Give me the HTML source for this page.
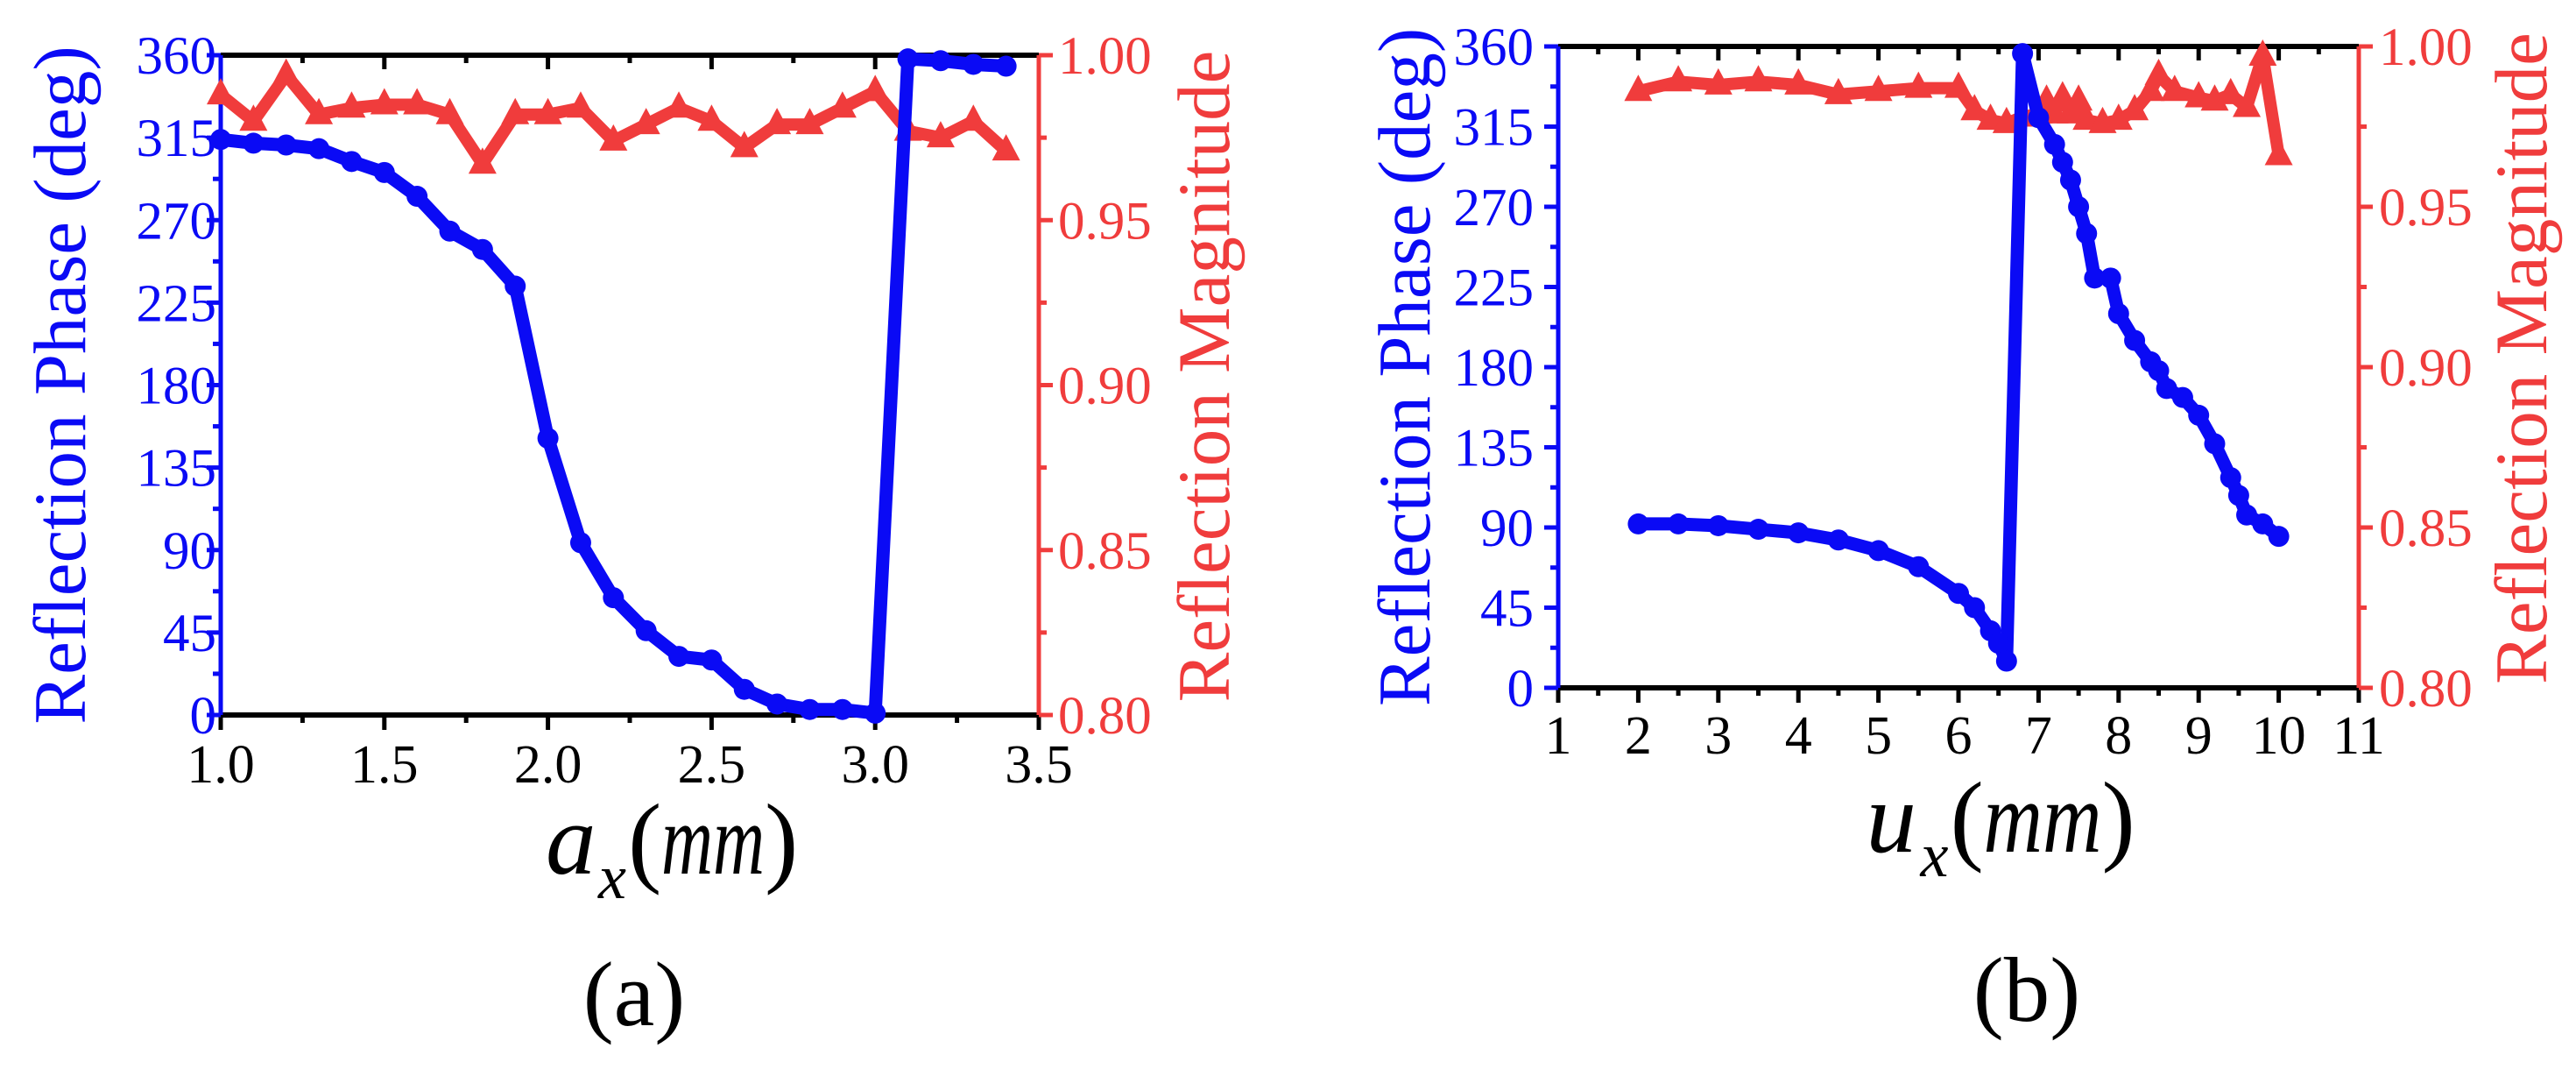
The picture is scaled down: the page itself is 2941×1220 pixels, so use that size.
<!DOCTYPE html>
<html><head><meta charset="utf-8"><style>
html,body{margin:0;padding:0;background:#fff}
svg{display:block}
text{font-family:"Liberation Serif","DejaVu Serif",serif}
</style></head><body>
<svg id="fig" width="2941" height="1220" viewBox="0 0 2941 1220" xmlns="http://www.w3.org/2000/svg"></svg>
<script>
// Panel (a) data
const aX = [1.0,1.1,1.2,1.3,1.4,1.5,1.6,1.7,1.8,1.9,2.0,2.1,2.2,2.3,2.4,2.5,2.6,2.7,2.8,2.9,3.0,3.1,3.2,3.3,3.4];
const aPhase = [314,312,311,309,302,296,283,264,254,234,151,94,64,46,32,30,14,6,3,3,1,358,357,355,354];
const aMag = [0.988,0.980,0.994,0.982,0.984,0.985,0.985,0.982,0.967,0.982,0.982,0.984,0.974,0.979,0.984,0.980,0.972,0.979,0.979,0.984,0.989,0.977,0.975,0.980,0.971];
const aXTicks = ["1.0","1.5","2.0","2.5","3.0","3.5"];
// Panel (b) data
const bPX = [2,2.5,3,3.5,4,4.5,5,5.5,6,6.2,6.4,6.5,6.6,6.8,7.0,7.2,7.3,7.4,7.5,7.6,7.7,7.9,8.0,8.2,8.4,8.5,8.6,8.8,9.0,9.2,9.4,9.5,9.6,9.8,10.0];
const bPhase = [92,92,91,89,87,83,77,68,53,45,32,25,15,356,320,305,295,285,270,255,230,230,210,195,183,178,168,163,153,137,118,108,97,92,85];
const bMX = [2,2.5,3,3.5,4,4.5,5,5.5,6,6.2,6.4,6.6,6.8,7.0,7.1,7.2,7.3,7.4,7.5,7.6,7.8,8.0,8.2,8.4,8.5,8.7,9.0,9.2,9.4,9.6,9.8,10.0];
const bMag = [0.986,0.989,0.988,0.989,0.988,0.985,0.986,0.987,0.987,0.980,0.977,0.976,0.978,0.979,0.983,0.979,0.984,0.979,0.983,0.977,0.976,0.977,0.980,0.986,0.991,0.986,0.984,0.983,0.985,0.981,0.997,0.966];
const bXTicks = ["1","2","3","4","5","6","7","8","9","10","11"];
const phaseTicks = ["0","45","90","135","180","225","270","315","360"];
const magTicks = ["0.80","0.85","0.90","0.95","1.00"];

const NS="http://www.w3.org/2000/svg";
const svg=document.getElementById('fig');
const BLUE="#0a0af5", RED="#f03c3c";
function el(tag,attrs,parent,txt){const e=document.createElementNS(NS,tag);for(const k in attrs)e.setAttribute(k,attrs[k]);if(txt!==undefined)e.textContent=txt;(parent||svg).appendChild(e);return e;}

// words + widths (em) for rotated titles
function wordsTitle(parent,words,ems,fs,fill,name){
  const sp=0.25*fs;
  const total=ems.reduce((a,b)=>a+b*fs,0)+sp*(words.length-1);
  let x=-total/2;
  words.forEach((w,i)=>{
    const t=el('text',{x:x,y:0,'font-size':fs,fill:fill,textLength:ems[i]*fs,lengthAdjust:'spacingAndGlyphs'},parent,w);
    
    
    x+=ems[i]*fs+sp;
  });
}

function panel(cfg){
  const g=el('g',{});
  
  
  const {L,R,T,B,xmin,xmax}=cfg;
  const sx=v=>L+(v-xmin)/(xmax-xmin)*(R-L);
  const syP=v=>B-v/360*(B-T);
  const syM=v=>B-(v-0.8)/0.2*(B-T);
  const xt=cfg.xticks.map(Number);
  const step=xt[1]-xt[0];
  for(let i=0;i<xt.length;i++){
    const x=sx(xt[i]);
    let t=el('line',{x1:x,y1:B,x2:x,y2:B+17,stroke:'#000','stroke-width':5},g);
    
    el('line',{x1:x,y1:T,x2:x,y2:T+16,stroke:'#000','stroke-width':5},g);
    if(i<xt.length-1){const xm=sx(xt[i]+step/2);
      el('line',{x1:xm,y1:B,x2:xm,y2:B+9,stroke:'#000','stroke-width':5},g);
      el('line',{x1:xm,y1:T,x2:xm,y2:T+9,stroke:'#000','stroke-width':5},g);}
    let lb=el('text',{x:x,y:cfg.xtickY,'font-size':62,'text-anchor':'middle',fill:'#000'},g,cfg.xticks[i]);
    
  }
  el('line',{x1:L,y1:T,x2:R,y2:T,stroke:'#000','stroke-width':6},g);
  el('line',{x1:L,y1:B,x2:R,y2:B,stroke:'#000','stroke-width':6},g);
  el('line',{x1:L,y1:T,x2:L,y2:B,stroke:BLUE,'stroke-width':5},g);
  el('line',{x1:R,y1:T,x2:R,y2:B,stroke:RED,'stroke-width':5},g);
  phaseTicks.forEach((s,i)=>{const v=Number(s),y=syP(v);
    el('line',{x1:L-16,y1:y,x2:L,y2:y,stroke:BLUE,'stroke-width':5},g);
    if(i<phaseTicks.length-1){const ym=syP(v+22.5);el('line',{x1:L-9,y1:ym,x2:L,y2:ym,stroke:BLUE,'stroke-width':5},g);}
    let lb=el('text',{x:cfg.lLabX,y:y+21,'font-size':61,'text-anchor':'end',fill:BLUE},g,s);
    
  });
  magTicks.forEach((s,i)=>{const v=Number(s),y=syM(v);
    el('line',{x1:R,y1:y,x2:R+16,y2:y,stroke:RED,'stroke-width':5},g);
    if(i<magTicks.length-1){const ym=syM(v+0.025);el('line',{x1:R,y1:ym,x2:R+9,y2:ym,stroke:RED,'stroke-width':5},g);}
    let lb=el('text',{x:cfg.rLabX,y:y+21,'font-size':61,'text-anchor':'start',fill:RED},g,s);
    
  });
  const lg=el('g',{transform:`translate(${cfg.lTitleX},${(T+B)/2}) rotate(-90)`},g);
  
  wordsTitle(lg,['Reflection','Phase','(deg)'],[4.166,2.333,2.11],85,BLUE,'phase-axis-title-word');
  const rg=el('g',{transform:`translate(${cfg.rTitleX},${(T+B)/2-10}) rotate(-90)`},g);
  
  wordsTitle(rg,['Reflection','Magnitude'],[4.166,4.333],85,RED,'magnitude-axis-title-word');
  // x title pieces
  const x0=cfg.xTitleX-cfg.xTitleW/2;
  let xv=el('text',{x:x0,y:cfg.xTitleY,'font-size':115,'font-style':'italic',fill:'#000'},g,cfg.var);
  
  let xs=el('text',{x:x0+cfg.subDx,y:cfg.xTitleY+28,'font-size':72,'font-style':'italic',fill:'#000'},g,'x');
  
  const ux=x0+cfg.subDx+34, uw=cfg.xTitleW-cfg.subDx-34;
  let p1=el('text',{x:ux,y:cfg.xTitleY,'font-size':115,fill:'#000'},g,'(');
  
  let mm=el('text',{x:ux+38,y:cfg.xTitleY,'font-size':115,'font-style':'italic',fill:'#000',textLength:uw-74,lengthAdjust:'spacingAndGlyphs'},g,'mm');
  
  let p2=el('text',{x:ux+uw-36,y:cfg.xTitleY,'font-size':115,fill:'#000'},g,')');
  
  let pl=el('text',{x:cfg.capX,y:cfg.capY,'font-size':105,'text-anchor':'middle',fill:'#000'},g,cfg.cap);
  
  const mp=cfg.mx.map((x,i)=>sx(x)+','+syM(cfg.mag[i])).join(' ');
  let ml=el('polyline',{points:mp,fill:'none',stroke:RED,'stroke-width':14,'stroke-linejoin':'round'},g);
  
  cfg.mx.forEach((x,i)=>{const cx=sx(x),cy=syM(cfg.mag[i]);
    let m=el('polygon',{points:`${cx},${cy-19} ${cx-16},${cy+11} ${cx+16},${cy+11}`,fill:RED},g);
    });
  const pp=cfg.px.map((x,i)=>sx(x)+','+syP(cfg.phase[i])).join(' ');
  let pln=el('polyline',{points:pp,fill:'none',stroke:BLUE,'stroke-width':15,'stroke-linejoin':'round'},g);
  
  cfg.px.forEach((x,i)=>{
    let c=el('circle',{cx:sx(x),cy:syP(cfg.phase[i]),r:12,fill:BLUE},g);
    });
}
panel({id:'a',L:252,R:1186,T:63,B:816,xmin:1,xmax:3.5,xticks:aXTicks,xtickY:893,lLabX:247,rLabX:1208,
  lTitleX:97,rTitleX:1403,xTitleX:766,xTitleW:286,xTitleY:997,subDx:60,var:'a',
  capX:724,capY:1170,cap:'(a)',px:aX,phase:aPhase,mx:aX,mag:aMag});
panel({id:'b',L:1779,R:2693,T:53,B:785,xmin:1,xmax:11,xticks:bXTicks,xtickY:860,lLabX:1751,rLabX:2716,
  lTitleX:1632,rTitleX:2907,xTitleX:2283,xTitleW:305,xTitleY:972,subDx:62,var:'u',
  capX:2314,capY:1165,cap:'(b)',px:bPX,phase:bPhase,mx:bMX,mag:bMag});
</script>
</body></html>
